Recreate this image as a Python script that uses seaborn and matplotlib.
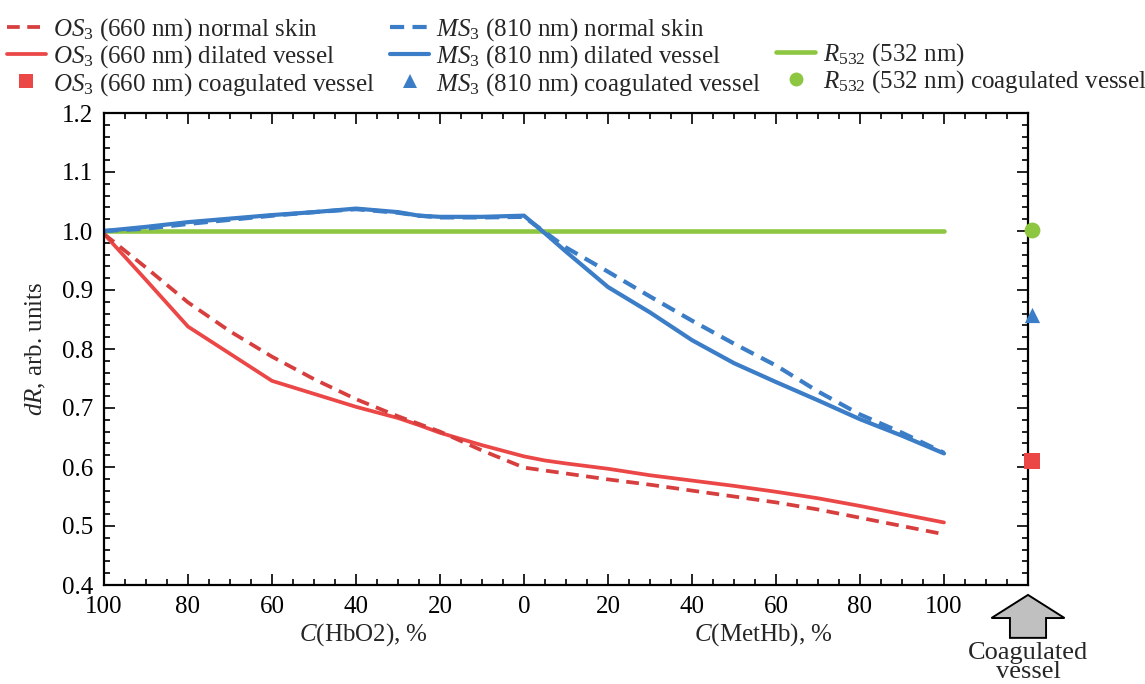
import numpy as np
import pandas as pd
import seaborn as sns
import matplotlib
matplotlib.use("Agg")
import matplotlib.pyplot as plt
from matplotlib.patches import Polygon
from matplotlib.lines import Line2D
from matplotlib.ticker import FixedLocator, FuncFormatter

# ---------------- data ----------------
hbo2_pct = [100, 90, 80, 70, 60, 50, 40, 30, 25, 20, 10, 0]      # C(HbO2), % (left part)
methb_pct = [5, 10, 20, 30, 40, 50, 60, 70, 80, 90, 100]          # C(MetHb), % (right part)

ms3_normal_hbo2 = [1.000, 1.004, 1.012, 1.019, 1.026, 1.032, 1.037, 1.031, 1.026, 1.023, 1.023, 1.024]
ms3_normal_methb = [0.998, 0.972, 0.931, 0.889, 0.848, 0.809, 0.772, 0.728, 0.689, 0.658, 0.624]
ms3_dilated_hbo2 = [1.000, 1.007, 1.015, 1.021, 1.027, 1.032, 1.038, 1.032, 1.026, 1.024, 1.024, 1.026]
ms3_dilated_methb = [0.996, 0.965, 0.905, 0.862, 0.815, 0.776, 0.744, 0.713, 0.681, 0.653, 0.623]
os3_normal_hbo2 = [0.995, 0.938, 0.879, 0.830, 0.787, 0.749, 0.715, 0.686, 0.673, 0.660, 0.628, 0.599]
os3_normal_methb = [0.594, 0.589, 0.579, 0.570, 0.560, 0.550, 0.540, 0.528, 0.514, 0.500, 0.486]
os3_dilated_hbo2 = [0.995, 0.917, 0.838, 0.792, 0.746, 0.724, 0.702, 0.683, 0.671, 0.658, 0.637, 0.618]
os3_dilated_methb = [0.611, 0.606, 0.597, 0.586, 0.577, 0.568, 0.558, 0.547, 0.534, 0.520, 0.506]
r532_hbo2_pct = [100, 0]
r532_hbo2 = [1.000, 1.000]
r532_methb_pct = [100]
r532_methb = [1.000]

coag_position = 121          # "Coagulated vessel" column, just right of the last 20 % step
os3_coag = 0.610
ms3_coag = 0.858
r532_coag = 1.002

x_tick_values = [-100, -80, -60, -40, -20, 0, 20, 40, 60, 80, 100, 120]
y_tick_values = [0.4, 0.5, 0.6, 0.7, 0.8, 0.9, 1.0, 1.1, 1.2]

labels = {
    "os_n": r"$OS_3$ (660 nm) normal skin",
    "os_d": r"$OS_3$ (660 nm) dilated vessel",
    "os_c": r"$OS_3$ (660 nm) coagulated vessel",
    "ms_n": r"$MS_3$ (810 nm) normal skin",
    "ms_d": r"$MS_3$ (810 nm) dilated vessel",
    "ms_c": r"$MS_3$ (810 nm) coagulated vessel",
    "r_d": r"$R_{532}$ (532 nm)",
    "r_c": r"$R_{532}$ (532 nm) coagulated vessel",
}

RED = "#ec4747"
RED_D = "#d63f3e"
BLUE = "#3b7dc6"
GREEN = "#8dc641"

LW_R, LW_B, LW_G = 2.7, 3.0, 3.3


def series(hv, mv, hx=hbo2_pct, mx=methb_pct):
    x = [-v for v in hx] + list(mx)
    return pd.DataFrame({"x": x, "dR": list(hv) + list(mv)})


# ---------------- style ----------------
sns.set_style("ticks")
plt.rcParams["font.family"] = ["Liberation Serif", "DejaVu Serif"]
plt.rcParams["mathtext.fontset"] = "custom"
plt.rcParams["mathtext.rm"] = "Liberation Serif"
plt.rcParams["mathtext.it"] = "Liberation Serif:italic"
plt.rcParams["font.size"] = 18

fig = plt.figure(figsize=(11.45, 6.84), dpi=100)
ax = fig.add_axes([104 / 1145, 99 / 684, 924 / 1145, 472 / 684])

DASH = (0, (3.4, 2.0))

sns.lineplot(data=series(r532_hbo2, r532_methb, r532_hbo2_pct, r532_methb_pct), x="x", y="dR",
             ax=ax, color=GREEN, lw=LW_G, solid_capstyle="round", estimator=None)
sns.lineplot(data=series(os3_dilated_hbo2, os3_dilated_methb), x="x", y="dR", ax=ax,
             color=RED, lw=LW_R, solid_capstyle="round", estimator=None)
sns.lineplot(data=series(os3_normal_hbo2, os3_normal_methb), x="x", y="dR", ax=ax,
             color=RED_D, lw=LW_R, linestyle=DASH, estimator=None)
sns.lineplot(data=series(ms3_dilated_hbo2, ms3_dilated_methb), x="x", y="dR", ax=ax,
             color=BLUE, lw=LW_B, solid_capstyle="round", estimator=None)
sns.lineplot(data=series(ms3_normal_hbo2, ms3_normal_methb), x="x", y="dR", ax=ax,
             color=BLUE, lw=LW_B, linestyle=DASH, estimator=None)

sns.scatterplot(x=[coag_position], y=[os3_coag], marker="s", s=120, color=RED,
                linewidth=0, ax=ax, clip_on=False, zorder=5)
sns.scatterplot(x=[coag_position], y=[ms3_coag], marker="^", s=120, color=BLUE,
                linewidth=0, ax=ax, clip_on=False, zorder=5)
sns.scatterplot(x=[coag_position], y=[r532_coag], marker="o", s=130, color=GREEN,
                linewidth=0, ax=ax, clip_on=False, zorder=5)

# ---------------- axes ----------------
ax.set_xlim(-100, 120)
ax.set_ylim(0.4, 1.2)
ax.xaxis.set_major_locator(FixedLocator(x_tick_values))
ax.xaxis.set_minor_locator(FixedLocator(list(range(-100, 121, 5))))
ax.xaxis.set_major_formatter(FuncFormatter(lambda v, p: "" if v > 100 else f"{abs(int(round(v)))}"))
ax.yaxis.set_major_locator(FixedLocator(y_tick_values))
ax.yaxis.set_minor_locator(FixedLocator(list(np.round(np.arange(0.4, 1.2001, 0.02), 2))))
ax.yaxis.set_major_formatter(FuncFormatter(lambda v, p: f"{v:.1f}"))
ax.tick_params(which="both", direction="in", top=True, right=True, width=1.2,
               colors="black", labelsize=18)
ax.tick_params(which="major", length=8, pad=8)
ax.tick_params(which="minor", length=4.5)
for sp in ax.spines.values():
    sp.set_linewidth(1.6)
    sp.set_color("black")
    sp.set_visible(True)
ax.set_xlabel("")
ax.set_ylabel(r"$dR$, arb. units", fontsize=18, labelpad=10)

xt = ax.get_xaxis_transform()
ax.text(-38.3, -0.105, r"$C$(HbO2), %", transform=xt, ha="center", va="center", fontsize=18)
ax.text(56.9, -0.105, r"$C$(MetHb), %", transform=xt, ha="center", va="center", fontsize=18)

# arrow for the coagulated-vessel column
cx = coag_position - 1
arrow = Polygon([(cx, -0.021), (cx + 8.7, -0.070), (cx + 4.3, -0.070), (cx + 4.3, -0.112),
                 (cx - 4.3, -0.112), (cx - 4.3, -0.070), (cx - 8.7, -0.070)],
                closed=True, transform=xt, clip_on=False, facecolor="#c0c0c0",
                edgecolor="black", linewidth=1.4, joinstyle="miter")
ax.add_patch(arrow)
ax.text(cx, -0.120, "Coagulated\nvessel", transform=xt, ha="center", va="top",
        fontsize=19, linespacing=0.85)

# ---------------- legend ----------------
handles = [
    Line2D([], [], color=RED_D, lw=LW_R, linestyle=DASH),
    Line2D([], [], color=RED, lw=LW_R),
    Line2D([], [], color=RED, marker="s", linestyle="none", markersize=10, markeredgewidth=0),
    Line2D([], [], color=BLUE, lw=LW_B, linestyle=DASH),
    Line2D([], [], color=BLUE, lw=LW_B),
    Line2D([], [], color=BLUE, marker="^", linestyle="none", markersize=10, markeredgewidth=0),
    Line2D([], [], color="none"),
    Line2D([], [], color=GREEN, lw=LW_G),
    Line2D([], [], color=GREEN, marker="o", linestyle="none", markersize=10, markeredgewidth=0),
]
leg_labels = [labels["os_n"], labels["os_d"], labels["os_c"],
              labels["ms_n"], labels["ms_d"], labels["ms_c"],
              "", labels["r_d"], labels["r_c"]]
fig.legend(handles, leg_labels, ncol=3, loc="upper left",
           bbox_to_anchor=(7 / 1145, 1 - 16 / 684), frameon=False, fontsize=18,
           handlelength=1.55, handletextpad=0.3, columnspacing=0.6, labelspacing=0.02,
           borderpad=0.0, borderaxespad=0.0)

fig.savefig("out.png", dpi=100)
